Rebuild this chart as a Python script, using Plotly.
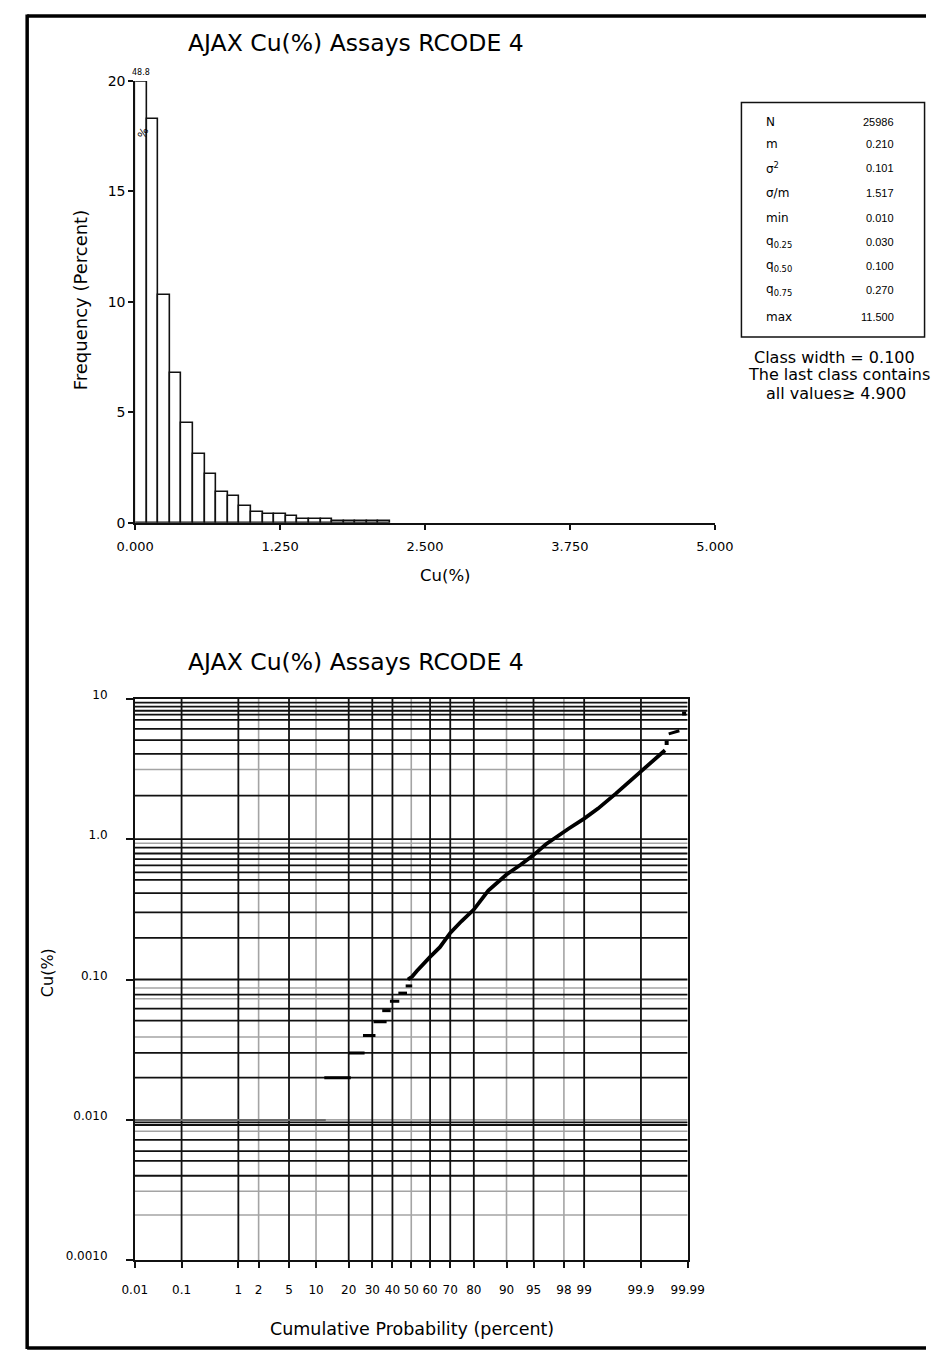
import plotly.graph_objects as go
from statistics import NormalDist

W, H = 945, 1359
FONT = "DejaVu Sans"
TITLE = "AJAX Cu(%) Assays RCODE 4"

# ---------------- histogram data ----------------
class_lower = [0.0, 0.1, 0.2, 0.3, 0.4, 0.5, 0.6, 0.7, 0.8, 0.9, 1.0,
               1.1, 1.2, 1.3, 1.4, 1.5, 1.6, 1.7, 1.8, 1.9, 2.0, 2.1]
freq_pct = [48.8, 18.3, 10.3, 6.8, 4.5, 3.1, 2.2, 1.4, 1.2, 0.75, 0.48,
            0.38, 0.38, 0.29, 0.16, 0.16, 0.17, 0.07, 0.07, 0.07, 0.07, 0.07]
class_width = 0.1
last_class_from = 4.9
hist_ymax = 20

hist_xticks = [0.0, 1.25, 2.5, 3.75, 5.0]
hist_yticks = [0, 5, 10, 15, 20]

stat_names = ["N", "m", "σ<sup>2</sup>", "σ/m", "min",
              "q<sub>0.25</sub>", "q<sub>0.50</sub>", "q<sub>0.75</sub>", "max"]
stat_values = ["25986", "0.210", "0.101", "1.517", "0.010",
               "0.030", "0.100", "0.270", "11.500"]

# ---------------- probability plot data ----------------
# discrete low-grade assay values: Cu and the cumulative % span they cover
step_cu = [0.01, 0.02, 0.03, 0.04, 0.05, 0.06, 0.07, 0.08, 0.09]
step_p_lo = [0.01, 12.1, 20.0, 25.8, 30.6, 34.8, 38.7, 43.1, 47.0]
step_p_hi = [12.5, 20.8, 26.5, 31.5, 37.0, 39.1, 43.6, 47.7, 50.5]
# continuous upper part of the distribution
curve_p = [48.2, 50.5, 53, 56, 60, 65, 70, 75, 80, 85, 90, 93, 95, 96.5,
           97.5, 98.3, 99.0, 99.4, 99.7, 99.85, 99.93, 99.968]
curve_cu = [0.10, 0.105, 0.115, 0.128, 0.145, 0.17, 0.215, 0.26, 0.315,
            0.43, 0.56, 0.66, 0.77, 0.92, 1.05, 1.19, 1.40, 1.65, 2.10,
            2.65, 3.35, 4.3]
# isolated extreme samples
tail_dot_p = [99.9705, 99.9879]
tail_dot_cu = [4.84, 7.84]
tail_dash_p = [99.9734, 99.9845]
tail_dash_cu = [5.62, 5.92]

prob_ticks = [0.01, 0.1, 1, 2, 5, 10, 20, 30, 40, 50, 60, 70, 80, 90, 95, 98, 99, 99.9, 99.99]
prob_labels = ["0.01", "0.1", "1", "2", "5", "10", "20", "30", "40", "50", "60",
               "70", "80", "90", "95", "98", "99", "99.9", "99.99"]
prob_gray = {2, 10, 50, 90, 98}
cu_ticks = [0.001, 0.01, 0.1, 1, 10]
cu_labels = ["0.0010", "0.010", "0.10", "1.0", "10"]

# horizontal rules of the log grid: (value, colour) -- k = dark, g = light
hrules = [
    (0.0021, "g"), (0.0031, "g"), (0.0040, "k"), (0.0051, "k"), (0.0060, "k"),
    (0.0072, "k"), (0.0083, "g"), (0.0092, "k"), (0.0096, "k"),
    (0.010, "g"),
    (0.020, "k"), (0.030, "k"), (0.039, "g"), (0.051, "k"), (0.062, "k"),
    (0.073, "g"), (0.078, "k"), (0.087, "g"),
    (0.10, "k"),
    (0.198, "k"), (0.301, "k"), (0.413, "k"), (0.513, "k"), (0.58, "k"),
    (0.65, "k"), (0.72, "k"), (0.79, "k"), (0.87, "k"), (0.934, "g"),
    (1.0, "k"),
    (2.04, "k"), (3.13, "g"), (4.05, "k"), (5.07, "k"), (6.11, "k"),
    (7.07, "k"), (7.7, "k"), (8.21, "k"), (8.8, "k"), (9.38, "k"),
]

nd = NormalDist()


def z(p):
    return nd.inv_cdf(p / 100.0)


def px(x):
    return x / W


def py(y):
    return 1 - y / H


ZMIN, ZMAX = z(prob_ticks[0]), z(prob_ticks[-1])
BLACK = "#111111"
GRAY = "#a4a4a4"

fig = go.Figure()

# ---------------- histogram ----------------
fig.add_trace(go.Bar(
    x=class_lower, y=freq_pct, width=[class_width] * len(class_lower), offset=0,
    marker=dict(color="white", line=dict(color=BLACK, width=1.6)),
    xaxis="x", yaxis="y", showlegend=False, hoverinfo="skip"))

# ---------------- probability plot grid ----------------
gx = {"k": [], "g": []}
gy = {"k": [], "g": []}
for p in prob_ticks[1:-1]:
    c = "g" if p in prob_gray else "k"
    gx[c] += [z(p), z(p), None]
    gy[c] += [cu_ticks[0], cu_ticks[-1], None]
for v, c in hrules:
    gx[c] += [ZMIN, ZMAX, None]
    gy[c] += [v, v, None]

for c, col, wd in (("g", GRAY, 1.6), ("k", BLACK, 1.8)):
    fig.add_trace(go.Scatter(x=gx[c], y=gy[c], mode="lines",
                             line=dict(color=col, width=wd),
                             xaxis="x2", yaxis="y2", showlegend=False, hoverinfo="skip"))

# ---------------- probability plot data ----------------
sx, sy = [], []
for cu, lo, hi in zip(step_cu[1:], step_p_lo[1:], step_p_hi[1:]):
    sx += [z(lo), z(hi), None]
    sy += [cu, cu, None]
fig.add_trace(go.Scatter(x=[z(step_p_lo[0]), z(step_p_hi[0])], y=[step_cu[0]] * 2,
                         mode="lines", line=dict(color="#6a6a6a", width=2),
                         xaxis="x2", yaxis="y2", showlegend=False, hoverinfo="skip"))
fig.add_trace(go.Scatter(x=sx, y=sy, mode="lines", line=dict(color="black", width=3),
                         xaxis="x2", yaxis="y2", showlegend=False, hoverinfo="skip"))
fig.add_trace(go.Scatter(x=[z(p) for p in curve_p], y=curve_cu, mode="lines",
                         line=dict(color="black", width=3.8),
                         xaxis="x2", yaxis="y2", showlegend=False, hoverinfo="skip"))
fig.add_trace(go.Scatter(x=[z(p) for p in tail_dash_p], y=tail_dash_cu, mode="lines",
                         line=dict(color="black", width=3),
                         xaxis="x2", yaxis="y2", showlegend=False, hoverinfo="skip"))
fig.add_trace(go.Scatter(x=[z(p) for p in tail_dot_p], y=tail_dot_cu, mode="markers",
                         marker=dict(color="black", size=4, symbol="square"),
                         xaxis="x2", yaxis="y2", showlegend=False, hoverinfo="skip"))

axis_common = dict(showgrid=False, zeroline=False, showline=True, linecolor=BLACK,
                   linewidth=1.6, ticks="outside", tickcolor=BLACK, tickwidth=1.5,
                   tickfont=dict(family=FONT, size=13, color="black"))

fig.update_layout(
    width=W, height=H, autosize=False,
    margin=dict(l=0, r=0, t=0, b=0),
    paper_bgcolor="white", plot_bgcolor="white",
    bargap=0,
    xaxis=dict(axis_common, domain=[px(121), px(725)], range=[0, 5], anchor="y",
               tickvals=hist_xticks, ticktext=[f"{v:.3f}" for v in hist_xticks],
               ticklen=5, ticklabelstandoff=6),
    yaxis=dict(axis_common, domain=[py(519), py(71)], range=[0, hist_ymax], anchor="x",
               tickvals=hist_yticks, ticklen=5,
               tickfont=dict(family=FONT, size=14, color="black")),
    xaxis2=dict(axis_common, domain=[px(120.7), px(696.7)], range=[ZMIN, ZMAX], anchor="y2",
                tickvals=[z(p) for p in prob_ticks], ticktext=prob_labels, mirror=True,
                ticklen=6, ticklabelstandoff=12,
                tickfont=dict(family=FONT, size=12, color="black")),
    yaxis2=dict(axis_common, domain=[py(1267), py(697.5)], type="log", range=[-3, 1],
                anchor="x2", tickvals=cu_ticks, ticktext=cu_labels, mirror=True,
                ticklen=7, ticklabelstandoff=16, ticklabelshift=-4,
                tickfont=dict(family=FONT, size=12, color="black")),
)

shapes = [
    # clipped top of the first class
    dict(type="line", xref="x", yref="y", x0=class_lower[0], x1=class_lower[1],
         y0=hist_ymax, y1=hist_ymax, line=dict(color=BLACK, width=1.6)),
    # statistics box
    dict(type="rect", xref="paper", yref="paper", x0=px(752.7), x1=px(943.5),
         y0=py(330.7), y1=py(92.7), line=dict(color=BLACK, width=1.5)),
]
# page frame: left, top and bottom edges
for x0, y0, x1, y1 in ((8.5, 3.5, 8.5, 1357), (8.5, 5, 945, 5), (8.5, 1356, 945, 1356)):
    shapes.append(dict(type="line", xref="paper", yref="paper",
                       x0=px(x0), y0=py(y0), x1=px(x1), y1=py(y1),
                       line=dict(color="black", width=3.5)))
fig.update_layout(shapes=shapes)

ann = []


def text(x, y, s, size=13, xanchor="center", angle=0, family=FONT):
    ann.append(dict(x=px(x), y=py(y), xref="paper", yref="paper", text=s, showarrow=False,
                    xanchor=xanchor, yanchor="middle", textangle=angle,
                    font=dict(family=family, size=size, color="black")))


text(351, 32, TITLE, size=23.5)
text(351, 660, TITLE, size=23.5)
text(444, 573, "Cu(%)", size=16.5)
text(65, 293, "Frequency (Percent)", size=18, angle=-90)
text(30, 975, "Cu(%)", size=16, angle=-90)
text(409, 1337, "Cumulative Probability (percent)", size=17.5)
text(129, 124, "%", size=11, angle=-65)

# value of the clipped first class
ann.append(dict(x=class_lower[0] + class_width / 2, y=hist_ymax, xref="x", yref="y",
                text=f"{freq_pct[0]:.1f}", showarrow=False, yanchor="bottom", yshift=2,
                font=dict(family=FONT, size=8, color="black")))

stat_rows = [113, 135, 159, 185, 210, 234, 259, 283, 310]
for yy, name, val in zip(stat_rows, stat_names, stat_values):
    text(776, yy, name, size=12, xanchor="left")
    text(914, yy, val, size=11, xanchor="right", family="Liberation Sans")

text(850, 351, f"Class width = {class_width:.3f}", size=16)
text(757, 369, "The last class contains", size=16, xanchor="left")
text(851, 388, f"all values≥ {last_class_from:.3f}", size=16)

fig.update_layout(annotations=ann)

fig.write_html("out.html")
